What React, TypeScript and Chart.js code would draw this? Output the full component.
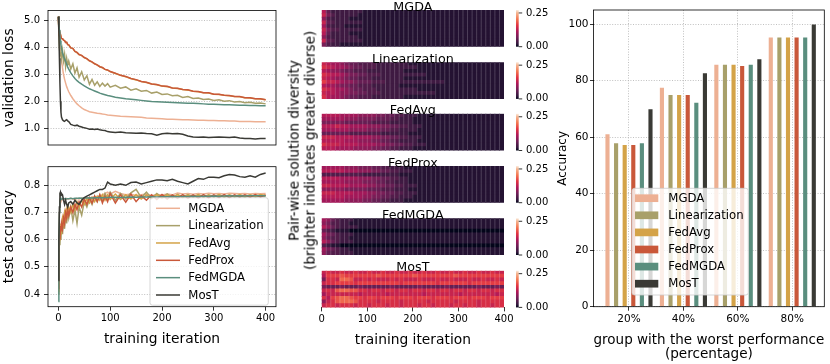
import React, { useEffect, useRef } from 'react';
import { Chart, registerables } from 'chart.js';

Chart.register(...registerables);

const FONT = "'DejaVu Sans', 'Liberation Sans', sans-serif";

// ---------------- data ----------------
const METHODS = ['MGDA', 'Linearization', 'FedAvg', 'FedProx', 'FedMGDA', 'MosT'];
const COLORS = ['#EDB093', '#A8A06A', '#D4A348', '#C9583A', '#5A8E7E', '#3A3A35'];

const ITERS = [0, 1, 2, 3, 4, 5, 6, 8, 10, 12, 14, 16, 18, 20, 24, 28, 32, 36, 40, 45, 50, 55, 60, 65, 70, 75, 80, 85, 90, 95, 100,
  110, 120, 130, 140, 150, 160, 170, 180, 190, 200, 210, 220, 230, 240, 250, 260, 270, 280, 290, 300, 310, 320, 330, 340, 350, 360, 370, 380, 390, 400];

const LOSS_MGDA = [5.15, 4.9, 4.6, 4.3, 4.0, 3.75, 3.55, 3.25, 3.0, 2.82, 2.68, 2.55, 2.45, 2.36, 2.22, 2.1, 2.0, 1.91, 1.84,
  1.76, 1.7, 1.66, 1.62, 1.6, 1.58, 1.56, 1.55, 1.53, 1.52, 1.5, 1.49,
  1.47, 1.45, 1.44, 1.43, 1.42, 1.41, 1.39, 1.38, 1.37, 1.36, 1.34, 1.34, 1.33, 1.32, 1.32, 1.31, 1.30, 1.30, 1.29, 1.29, 1.28, 1.28, 1.27, 1.27, 1.26, 1.26, 1.26, 1.25, 1.25, 1.25];
const LOSS_LIN = [5.15, 4.5, 4.0, 3.8, 3.7, 3.85, 3.6, 3.9, 3.5, 3.75, 3.3, 3.6, 3.35, 3.5, 3.2, 3.4, 3.05, 3.25, 2.9,
  3.1, 2.8, 2.95, 2.64, 2.82, 2.6, 2.73, 2.56, 2.68, 2.57, 2.66, 2.53,
  2.6, 2.49, 2.54, 2.42, 2.47, 2.38, 2.41, 2.31, 2.35, 2.26, 2.28, 2.21, 2.23, 2.15, 2.18, 2.11, 2.13, 2.07, 2.09, 2.04, 2.06, 2.01, 2.03, 1.98, 2.0, 1.95, 1.97, 1.93, 1.94, 1.91];
const LOSS_FEDAVG = [5.15, 4.7, 4.45, 4.4, 4.36, 4.41, 4.34, 4.33, 4.28, 4.25, 4.19, 4.19, 4.11, 4.1, 3.99, 3.96, 3.86, 3.81, 3.74,
  3.7, 3.63, 3.58, 3.51, 3.46, 3.4, 3.35, 3.29, 3.25, 3.19, 3.16, 3.11,
  3.04, 2.97, 2.92, 2.85, 2.8, 2.74, 2.7, 2.65, 2.62, 2.57, 2.55, 2.5, 2.48, 2.44, 2.42, 2.38, 2.36, 2.32, 2.31, 2.27, 2.26, 2.23, 2.21, 2.18, 2.17, 2.14, 2.13, 2.1, 2.09, 2.06];
const LOSS_FEDPROX = [5.15, 4.7, 4.45, 4.4, 4.36, 4.42, 4.34, 4.33, 4.28, 4.26, 4.19, 4.2, 4.11, 4.1, 3.99, 3.97, 3.86, 3.82, 3.74,
  3.71, 3.63, 3.59, 3.51, 3.47, 3.4, 3.36, 3.29, 3.26, 3.19, 3.17, 3.11,
  3.05, 2.97, 2.93, 2.85, 2.81, 2.74, 2.71, 2.65, 2.63, 2.57, 2.56, 2.5, 2.49, 2.44, 2.43, 2.38, 2.37, 2.32, 2.32, 2.27, 2.27, 2.23, 2.22, 2.18, 2.18, 2.14, 2.14, 2.1, 2.1, 2.06];
const LOSS_FEDMGDA = [5.15, 4.9, 4.65, 4.45, 4.25, 4.1, 3.98, 3.8, 3.68, 3.58, 3.48, 3.38, 3.28, 3.2, 3.06, 2.95, 2.85, 2.77, 2.71,
  2.64, 2.58, 2.52, 2.47, 2.43, 2.39, 2.35, 2.31, 2.28, 2.25, 2.22, 2.2,
  2.16, 2.13, 2.1, 2.08, 2.06, 2.04, 2.02, 2.0, 1.99, 1.98, 1.97, 1.96, 1.95, 1.94, 1.93, 1.93, 1.92, 1.91, 1.9, 1.9, 1.89, 1.88, 1.88, 1.87, 1.86, 1.86, 1.85, 1.85, 1.84, 1.84];
const LOSS_MOST = [5.15, 4.6, 3.6, 2.7, 2.0, 1.6, 1.42, 1.32, 1.28, 1.26, 1.3, 1.32, 1.28, 1.25, 1.15, 1.12, 1.1, 1.12, 1.08,
  1.05, 1.02, 1.0, 0.97, 0.98, 0.96, 0.98, 0.95, 0.93, 0.92, 0.88, 0.87,
  0.85, 0.87, 0.84, 0.83, 0.82, 0.83, 0.81, 0.8, 0.75, 0.8, 0.82, 0.8, 0.81, 0.78, 0.72, 0.68, 0.67, 0.68, 0.66, 0.67, 0.68, 0.67, 0.66, 0.68, 0.64, 0.62, 0.62, 0.61, 0.62, 0.62];

const ACC_MGDA = [0.42, 0.6, 0.7, 0.74, 0.75, 0.74, 0.745, 0.75, 0.745, 0.75, 0.748, 0.752, 0.75, 0.75, 0.752, 0.75, 0.748, 0.752, 0.75,
  0.753, 0.75, 0.755, 0.752, 0.757, 0.755, 0.758, 0.76, 0.765, 0.77, 0.775, 0.768,
  0.778, 0.77, 0.765, 0.768, 0.762, 0.765, 0.768, 0.762, 0.766, 0.764, 0.768, 0.765, 0.772, 0.768, 0.77, 0.767, 0.77, 0.768, 0.771, 0.769, 0.77, 0.768, 0.771, 0.77, 0.769, 0.77, 0.768, 0.77, 0.769, 0.77];
const ACC_LIN = [0.4, 0.55, 0.6, 0.58, 0.63, 0.6, 0.65, 0.62, 0.68, 0.64, 0.7, 0.66, 0.71, 0.68, 0.72, 0.67, 0.71, 0.66, 0.72,
  0.69, 0.74, 0.72, 0.75, 0.73, 0.76, 0.74, 0.765, 0.745, 0.77, 0.75, 0.775,
  0.745, 0.77, 0.75, 0.772, 0.785, 0.755, 0.775, 0.752, 0.77, 0.755, 0.768, 0.755, 0.766, 0.756, 0.765, 0.757, 0.764, 0.757, 0.763, 0.758, 0.764, 0.757, 0.763, 0.758, 0.762, 0.757, 0.763, 0.758, 0.762, 0.76];
const ACC_FEDAVG = [0.41, 0.58, 0.6, 0.64, 0.62, 0.66, 0.64, 0.68, 0.66, 0.7, 0.68, 0.71, 0.69, 0.72, 0.7, 0.73, 0.71, 0.74, 0.72,
  0.745, 0.73, 0.75, 0.735, 0.755, 0.74, 0.76, 0.745, 0.765, 0.745, 0.765, 0.748,
  0.768, 0.748, 0.765, 0.75, 0.766, 0.75, 0.765, 0.752, 0.766, 0.753, 0.765, 0.754, 0.766, 0.755, 0.765, 0.756, 0.766, 0.756, 0.765, 0.757, 0.766, 0.757, 0.765, 0.758, 0.766, 0.758, 0.765, 0.759, 0.766, 0.763];
const ACC_FEDPROX = [0.42, 0.55, 0.62, 0.6, 0.65, 0.63, 0.66, 0.64, 0.68, 0.66, 0.7, 0.68, 0.71, 0.69, 0.72, 0.7, 0.73, 0.71, 0.74,
  0.72, 0.75, 0.73, 0.755, 0.735, 0.76, 0.74, 0.765, 0.735, 0.76, 0.74, 0.77,
  0.735, 0.765, 0.738, 0.768, 0.74, 0.762, 0.745, 0.765, 0.748, 0.766, 0.75, 0.765, 0.752, 0.766, 0.752, 0.765, 0.753, 0.766, 0.754, 0.765, 0.755, 0.766, 0.755, 0.765, 0.756, 0.765, 0.756, 0.766, 0.757, 0.765];
const ACC_FEDMGDA = [0.373, 0.6, 0.7, 0.74, 0.75, 0.752, 0.748, 0.75, 0.752, 0.75, 0.751, 0.75, 0.751, 0.751, 0.752, 0.751, 0.752, 0.752, 0.753,
  0.752, 0.753, 0.753, 0.754, 0.753, 0.754, 0.754, 0.755, 0.754, 0.755, 0.755, 0.756,
  0.756, 0.755, 0.756, 0.757, 0.756, 0.757, 0.757, 0.758, 0.757, 0.758, 0.758, 0.759, 0.758, 0.759, 0.759, 0.76, 0.759, 0.76, 0.76, 0.761, 0.76, 0.761, 0.762, 0.761, 0.762, 0.761, 0.762, 0.762, 0.762, 0.762];
const ACC_MOST = [0.45, 0.6, 0.72, 0.77, 0.775, 0.76, 0.77, 0.765, 0.745, 0.73, 0.745, 0.73, 0.72, 0.735, 0.74, 0.73, 0.745, 0.735, 0.73,
  0.745, 0.755, 0.76, 0.765, 0.77, 0.775, 0.78, 0.785, 0.785, 0.79, 0.812, 0.805,
  0.8, 0.805, 0.8, 0.81, 0.812, 0.805, 0.81, 0.815, 0.82, 0.82, 0.817, 0.822, 0.815, 0.81, 0.805, 0.815, 0.825, 0.822, 0.83, 0.83, 0.828, 0.835, 0.84, 0.838, 0.832, 0.83, 0.835, 0.83, 0.84, 0.845];

const LOSS_TICKS = [1, 2, 3, 4, 5];
const ACC_TICKS = [0.4, 0.5, 0.6, 0.7, 0.8];
const ITER_TICKS = [0, 100, 200, 300, 400];

// heatmaps: 10 pair rows x 40 columns (every 10 iterations); hex digit = level, value = level * HEAT_STEP
const HEAT_STEP = 0.015;
const HEAT_VMAX = 0.272;
const CBAR_TICKS = [0, 0.25];
const HEAT_COLS = [5, 15, 25, 35, 45, 55, 65, 75, 85, 95, 105, 115, 125, 135, 145, 155, 165, 175, 185, 195,
  205, 215, 225, 235, 245, 255, 265, 275, 285, 295, 305, 315, 325, 335, 345, 355, 365, 375, 385, 395];
const HEAT_MGDA = [
  '8422222221 1111111111 1111111111 1111111111',
  '9532222211 1111111111 1111111111 1111111111',
  '6322221111 1111111111 1111111111 1111111111',
  '9432222221 1111111111 1111111111 1111111111',
  '7322211111 1111111111 1111111111 1111111111',
  '9533222221 1111111111 1111111111 1111111111',
  '8422221111 1111111111 1111111111 1111111111',
  '6322222211 1111111111 1111111111 1111111111',
  '9432222221 1111111111 1111111111 1111111111',
  '5322111111 1111111111 1111111111 1111111111',
];
const HEAT_LIN = [
  '9877654433 3322222221 1111111111 1111111111',
  'a987765443 3322222222 2111111111 1111111111',
  '8766544333 2222222211 1111111111 1111111111',
  'a988765544 3332222222 2221111111 1111111111',
  '9876654433 3222222211 1111111111 1111111111',
  'b998766544 4333222222 2222222111 1111111111',
  '8776554433 3222222111 1111111111 1111111111',
  'a987765443 3322222222 2111111111 1111111111',
  '9887665544 3332222222 2222211111 1111111111',
  'a877654433 3222222211 1111111111 1111111111',
];
const HEAT_FEDAVG = [
  '8888777766 6655443322 2111111111 1111111111',
  '7777766655 5544433222 1111111111 1111111111',
  '5555544444 4333322222 1111111111 1111111111',
  '8889887777 6665544332 2211111111 1111111111',
  '7777776666 5554433222 2111111111 1111111111',
  '4444443333 3332222221 1111111111 1111111111',
  '9998888777 7665544332 2211111111 1111111111',
  '8888877766 6554433222 2111111111 1111111111',
  'a999888877 7766554433 2221111111 1111111111',
  '8887777666 6554433222 1111111111 1111111111',
];
const HEAT_FEDPROX = [
  '7777766655 5443322211 1111111111 1111111111',
  '8888877766 6554433222 1111111111 1111111111',
  '3333333332 2222222111 1111111111 1111111111',
  '8888777766 6554433221 1111111111 1111111111',
  '7777766665 5544332221 1111111111 1111111111',
  '9988887777 6655443322 2111111111 1111111111',
  '6666655555 4443332221 1111111111 1111111111',
  '9998888777 6655443322 2111111111 1111111111',
  '8888877776 6554433222 1111111111 1111111111',
  '7777766665 5443322211 1111111111 1111111111',
];
const HEAT_FEDMGDA = [
  '7643222111 1111111111 1111111111 1111111111',
  '6533221111 1111111111 1111111111 1111111111',
  '8643222211 1111111111 1111111111 1111111111',
  '4321110000 0000000000 0000000000 0000000000',
  '7543222111 1111111111 1111111111 1111111111',
  '6433221111 1111111111 1111111111 1111111111',
  '8643222111 1111111111 1111111111 1111111111',
  '3211000000 0000000000 0000000000 0000000000',
  '7543221111 1111111111 1111111111 1111111111',
  '6433222111 1111111111 1111111111 1111111111',
];
const HEAT_MOST = [
  '9a99a99a99 a99a99a99a 99a99a99a9 9a99a99a99',
  '8bbbcbbbbb bbcbbbbbbb cbbbbbbbbc bbbbbbbbbb',
  '5aa9ddc99a 9a999a9a99 9a999a99a9 99a99a99a9',
  '9aabbbbabb bbbbbbbabb bbbbbabbbb bbabbbbbbb',
  '5444544454 4444454444 4544444544 4444544454',
  '9a9cddccaa 9aa9aa9aa9 aa9aa9aa9a a9aa9aa9aa',
  '7999999989 9999899999 9989999999 8999999989',
  'a8bcddcbba bbabbbabbb abbbabbbab bbabbbabbb',
  '69acdddcaa aa9aaaa9aa aaa9aaaaa9 aaaa9aaaaa',
  '9aa9aaa9aa 9aaa9aa9aa a9aa9aaa9a a9aa9aa9aa',
];

const GROUPS = ['20%', '40%', '60%', '80%'];
const BAR_MGDA = [61.0, 77.5, 85.6, 95.3];
const BAR_LIN = [57.8, 74.9, 85.6, 95.3];
const BAR_FEDAVG = [57.2, 74.9, 85.6, 95.3];
const BAR_FEDPROX = [57.2, 74.9, 85.2, 95.3];
const BAR_FEDMGDA = [57.8, 72.2, 85.6, 95.3];
const BAR_MOST = [69.9, 82.6, 87.6, 99.9];
const ACC_TICKS_BAR = [0, 20, 40, 60, 80, 100];

const LOSS = [LOSS_MGDA, LOSS_LIN, LOSS_FEDAVG, LOSS_FEDPROX, LOSS_FEDMGDA, LOSS_MOST];
const ACC = [ACC_MGDA, ACC_LIN, ACC_FEDAVG, ACC_FEDPROX, ACC_FEDMGDA, ACC_MOST];
const HEATS = [HEAT_MGDA, HEAT_LIN, HEAT_FEDAVG, HEAT_FEDPROX, HEAT_FEDMGDA, HEAT_MOST];
const BARS = [BAR_MGDA, BAR_LIN, BAR_FEDAVG, BAR_FEDPROX, BAR_FEDMGDA, BAR_MOST];

// ---------------- helpers ----------------
const ROCKET: [number, string][] = [[0, '#03051A'], [0.083, '#35193E'], [0.25, '#701F57'], [0.417, '#AD1759'],
  [0.583, '#E13342'], [0.75, '#F37651'], [0.917, '#F6B48F'], [1, '#FAEBDD']];
function hexRgb(h: string) {
  return [parseInt(h.slice(1, 3), 16), parseInt(h.slice(3, 5), 16), parseInt(h.slice(5, 7), 16)];
}
function rocket(t: number) {
  t = Math.max(0, Math.min(1, t));
  for (let i = 1; i < ROCKET.length; i++) {
    if (t <= ROCKET[i][0]) {
      const [p0, c0] = ROCKET[i - 1];
      const [p1, c1] = ROCKET[i];
      const f = (t - p0) / (p1 - p0);
      const a = hexRgb(c0), b = hexRgb(c1);
      return [0, 1, 2].map(k => a[k] + (b[k] - a[k]) * f);
    }
  }
  return hexRgb(ROCKET[ROCKET.length - 1][1]);
}
function rgbStr(c: number[]) { return `rgb(${c.map(v => Math.round(v)).join(',')})`; }
function cellColor(v: number) { return rgbStr(rocket(v / HEAT_VMAX)); }

function roundRectPath(ctx: CanvasRenderingContext2D, x: number, y: number, w: number, h: number, r: number) {
  ctx.beginPath();
  ctx.moveTo(x + r, y);
  ctx.lineTo(x + w - r, y);
  ctx.arcTo(x + w, y, x + w, y + r, r);
  ctx.lineTo(x + w, y + h - r);
  ctx.arcTo(x + w, y + h, x + w - r, y + h, r);
  ctx.lineTo(x + r, y + h);
  ctx.arcTo(x, y + h, x, y + h - r, r);
  ctx.lineTo(x, y + r);
  ctx.arcTo(x, y, x + r, y, r);
  ctx.closePath();
}

const framePlugin = {
  id: 'frame',
  afterDatasetsDraw(chart: any) {
    const { ctx, chartArea: a } = chart;
    ctx.save();
    ctx.strokeStyle = '#000';
    ctx.lineWidth = 0.8;
    ctx.strokeRect(a.left, a.top, a.right - a.left, a.bottom - a.top);
    ctx.restore();
  },
};

function makeLegend(L: any) {
  return {
    id: 'boxLegend',
    afterDraw(chart: any) {
      const ctx = chart.ctx as CanvasRenderingContext2D;
      ctx.save();
      roundRectPath(ctx, L.x, L.y, L.w, L.h, 2.5);
      ctx.fillStyle = 'rgba(255,255,255,0.8)';
      ctx.fill();
      ctx.strokeStyle = '#cccccc';
      ctx.lineWidth = 0.8;
      ctx.stroke();
      ctx.font = `11.7px ${FONT}`;
      ctx.textBaseline = 'middle';
      ctx.textAlign = 'left';
      METHODS.forEach((m, i) => {
        const cy = L.row0 + i * L.dy;
        if (L.kind === 'line') {
          ctx.strokeStyle = COLORS[i];
          ctx.lineWidth = 1.5;
          ctx.beginPath();
          ctx.moveTo(L.hx0, cy);
          ctx.lineTo(L.hx1, cy);
          ctx.stroke();
        } else {
          ctx.fillStyle = COLORS[i];
          ctx.fillRect(L.hx0, cy - 3.85, L.hx1 - L.hx0, 7.7);
        }
        ctx.fillStyle = '#000';
        ctx.fillText(m, L.tx, cy + 0.5);
      });
      ctx.restore();
    },
  };
}

const tickFont = { size: 10, family: FONT };
const gridY = { color: '#b0b0b0', lineWidth: 0.8, tickLength: 4, tickColor: '#000', tickWidth: 0.8, tickBorderDash: [] };
const dotted = { display: false, dash: [1, 1.6] };

function lineConfig(series: number[][], ticks: number[], yMin: number, yMax: number, yTitle: string, withX: boolean, pad: any, xH: number, legend?: any) {
  return {
    type: 'line',
    data: {
      datasets: METHODS.map((m, i) => ({
        label: m,
        data: ITERS.map((x, k) => ({ x, y: series[i][k] })),
        borderColor: COLORS[i],
        backgroundColor: COLORS[i],
        borderWidth: 1.5,
        pointRadius: 0,
        tension: 0,
        fill: false,
        order: 5 - i,
      })),
    },
    options: {
      animation: false,
      responsive: false,
      events: [],
      layout: { padding: pad },
      plugins: { legend: { display: false }, tooltip: { enabled: false }, title: { display: false } },
      scales: {
        x: {
          type: 'linear', min: -20, max: 420, display: withX,
          afterBuildTicks: (s: any) => { s.ticks = ITER_TICKS.map(v => ({ value: v })); },
          afterFit: (s: any) => { s.height = xH; },
          ticks: { font: tickFont, color: '#000', padding: 2, maxRotation: 0 },
          grid: { drawOnChartArea: false, tickLength: 4, tickColor: '#000', tickWidth: 0.8, color: '#000' },
          border: { display: false },
          title: { display: true, text: 'training iteration', font: { size: 13.8, family: FONT }, color: '#000', padding: { top: 0, bottom: 16.5 } },
        },
        y: {
          type: 'linear', min: yMin, max: yMax,
          afterBuildTicks: (s: any) => { s.ticks = ticks.map(v => ({ value: v })); },
          afterFit: (s: any) => { s.width = 48; },
          ticks: { font: tickFont, color: '#000', padding: 4, callback: (v: any) => Number(v).toFixed(1) },
          grid: gridY,
          border: dotted,
          title: { display: true, text: yTitle, font: { size: 13.8, family: FONT }, color: '#000', padding: { top: 1, bottom: 0 } },
        },
      },
    },
    plugins: legend ? [framePlugin, makeLegend(legend)] : [framePlugin],
  };
}

// layout of the heatmap column
const HEAT_TOPS = [10, 62.2, 113.8, 166, 218.3, 270.7];
const HEAT_H = 36.7;
function heatBox(i: number) {
  const t = HEAT_TOPS[i];
  const top = Math.floor(t) - 12;
  const last = i === HEAT_TOPS.length - 1;
  const height = last ? 364 - top : 62;
  return { top, height, padTop: t - top, last };
}

function heatConfig(i: number) {
  const box = heatBox(i);
  const rows = HEATS[i];
  const cells: any[] = [];
  rows.forEach((row, r) => {
    const levels = row.replace(/ /g, '').split('');
    levels.forEach((ch, c) => {
      cells.push({ x: HEAT_COLS[c], y: [r, r + 1], v: parseInt(ch, 16) * HEAT_STEP });
    });
  });
  const title = METHODS[i];
  const xH = box.height - box.padTop - HEAT_H;
  const heatDeco = {
    id: 'heatDeco',
    afterDatasetsDraw(chart: any) {
      // faint seams between the 10-iteration columns
      const ctx = chart.ctx as CanvasRenderingContext2D;
      const a = chart.chartArea;
      const sx = chart.scales.x;
      ctx.save();
      ctx.strokeStyle = 'rgba(255,255,255,0.2)';
      ctx.lineWidth = 1;
      HEAT_COLS.forEach((c, k) => {
        if (k === 0) return;
        const px = sx.getPixelForValue(c - 5);
        ctx.beginPath();
        ctx.moveTo(px, a.top);
        ctx.lineTo(px, a.bottom);
        ctx.stroke();
      });
      ctx.restore();
    },
    afterDraw(chart: any) {
      const ctx = chart.ctx as CanvasRenderingContext2D;
      const a = chart.chartArea;
      const s = chart.scales.y2;
      ctx.save();
      // colorbar
      const x0 = a.right + 12, w = 2.7;
      const g = ctx.createLinearGradient(0, s.bottom, 0, s.top);
      ROCKET.forEach(([p, c]) => g.addColorStop(p, c));
      ctx.fillStyle = g;
      ctx.fillRect(x0, s.top, w, s.bottom - s.top);
      ctx.strokeStyle = '#000';
      ctx.lineWidth = 0.8;
      CBAR_TICKS.forEach(v => {
        const y = s.getPixelForValue(v);
        ctx.beginPath();
        ctx.moveTo(x0 + w, y);
        ctx.lineTo(x0 + w + 3.5, y);
        ctx.stroke();
      });
      // panel title
      ctx.fillStyle = '#000';
      ctx.font = `12.7px ${FONT}`;
      ctx.textAlign = 'center';
      ctx.textBaseline = 'alphabetic';
      ctx.fillText(title, (a.left + a.right) / 2, a.top + 0.6);
      ctx.restore();
    },
  };
  return {
    type: 'bar',
    data: {
      datasets: [{
        data: cells,
        backgroundColor: (ctx: any) => (ctx.raw ? cellColor(ctx.raw.v) : '#000'),
        borderWidth: 0,
        inflateAmount: 0.5,
        barPercentage: 1,
        categoryPercentage: 1,
        grouped: false,
      }],
    },
    options: {
      animation: false,
      responsive: false,
      events: [],
      layout: { padding: { left: 36.7, top: box.padTop, right: 0, bottom: 0 } },
      plugins: { legend: { display: false }, tooltip: { enabled: false }, title: { display: false } },
      scales: {
        x: {
          type: 'linear', min: 0, max: 400, offset: false, display: box.last,
          afterBuildTicks: (s: any) => { s.ticks = ITER_TICKS.map(v => ({ value: v })); },
          afterFit: (s: any) => { s.height = xH; },
          ticks: { font: tickFont, color: '#000', padding: 2, maxRotation: 0 },
          grid: { offset: false, drawOnChartArea: false, tickLength: 4, tickColor: '#000', tickWidth: 0.8, color: '#000' },
          border: { display: false },
          title: { display: true, text: 'training iteration', font: { size: 13.8, family: FONT }, color: '#000', padding: { top: 0, bottom: 15.7 } },
        },
        y: { type: 'linear', min: 0, max: 10, reverse: true, display: false },
        y2: {
          type: 'linear', position: 'right', min: 0, max: HEAT_VMAX,
          afterBuildTicks: (s: any) => { s.ticks = CBAR_TICKS.map(v => ({ value: v })); },
          afterFit: (s: any) => { s.width = 56; },
          ticks: { font: tickFont, color: '#000', padding: 0, autoSkip: false, callback: (v: any) => Number(v).toFixed(2) },
          grid: { display: true, drawOnChartArea: false, drawTicks: true, tickLength: 22, tickColor: 'rgba(0,0,0,0)', color: 'rgba(0,0,0,0)' },
          border: { display: false },
        },
      },
    },
    plugins: [heatDeco],
  };
}

function barConfig() {
  return {
    type: 'bar',
    data: {
      datasets: METHODS.map((m, i) => ({
        label: m,
        data: BARS[i].map((y, g) => ({ x: g, y })),
        backgroundColor: COLORS[i],
        borderWidth: 0,
        categoryPercentage: 0.948,
        barPercentage: 0.48,
      })),
    },
    options: {
      animation: false,
      responsive: false,
      events: [],
      layout: { padding: { left: 0, top: 10, right: 5.7, bottom: 0 } },
      plugins: { legend: { display: false }, tooltip: { enabled: false }, title: { display: false } },
      scales: {
        x: {
          type: 'linear', min: -0.652, max: 3.588, offset: false,
          afterBuildTicks: (s: any) => { s.ticks = GROUPS.map((_, g) => ({ value: g })); },
          afterFit: (s: any) => { s.height = 57.3; },
          ticks: { font: { size: 10.5, family: FONT }, color: '#000', padding: 2, maxRotation: 0, callback: (v: any) => GROUPS[Math.round(Number(v))] },
          grid: { offset: false, color: '#b0b0b0', lineWidth: 0.8, tickLength: 4, tickColor: '#000', tickWidth: 0.8, tickBorderDash: [] },
          border: dotted,
          title: { display: true, text: ['group with the worst performance', '(percentage)'], font: { size: 13.6, family: FONT, lineHeight: 1.03 }, color: '#000', padding: { top: 0, bottom: 2.5 } },
        },
        y: {
          type: 'linear', min: 0, max: 105,
          afterBuildTicks: (s: any) => { s.ticks = ACC_TICKS_BAR.map(v => ({ value: v })); },
          afterFit: (s: any) => { s.width = 38.5; },
          ticks: { font: { size: 10.5, family: FONT }, color: '#000', padding: 1.5 },
          grid: { color: '#b0b0b0', lineWidth: 0.8, tickLength: 3.5, tickColor: '#000', tickWidth: 0.8, tickBorderDash: [] },
          border: dotted,
          title: { display: true, text: 'Accuracy', font: { size: 12, family: FONT }, color: '#000', padding: { top: 0.8, bottom: 0 } },
        },
      },
    },
    plugins: [framePlugin, makeLegend({ kind: 'patch', x: 77, y: 188.3, w: 116.3, h: 106.7, row0: 198.2, dy: 17.1, hx0: 80, hx1: 103.3, tx: 113.3 })],
  };
}

export default function App() {
  const lossRef = useRef<HTMLCanvasElement>(null);
  const accRef = useRef<HTMLCanvasElement>(null);
  const barRef = useRef<HTMLCanvasElement>(null);
  const heatRefs = useRef<(HTMLCanvasElement | null)[]>([]);

  useEffect(() => {
    Chart.defaults.font.family = FONT;
    Chart.defaults.color = '#000';
    const charts: Chart[] = [];
    charts.push(new Chart(lossRef.current as any, lineConfig(LOSS, LOSS_TICKS, 0.383, 5.377, 'validation loss', false,
      { top: 10.5, right: 6, bottom: 4.5, left: 0 }, 0) as any));
    charts.push(new Chart(accRef.current as any, lineConfig(ACC, ACC_TICKS, 0.3535, 0.8685, 'test accuracy', true,
      { top: 11.7, right: 6, bottom: 0, left: 0 }, 57.3,
      { kind: 'line', x: 150, y: 42.7, w: 118.3, h: 107.5, row0: 53.3, dy: 17.34, hx0: 156, hx1: 180, tx: 188.3 }) as any));
    HEATS.forEach((_, i) => {
      const c = heatRefs.current[i];
      if (c) charts.push(new Chart(c as any, heatConfig(i) as any));
    });
    charts.push(new Chart(barRef.current as any, barConfig() as any));
    return () => charts.forEach(c => c.destroy());
  }, []);

  const abs = (left: number, top: number, width: number, height: number): React.CSSProperties => ({ position: 'absolute', left, top, width, height });

  return (
    <div style={{ position: 'absolute', left: 0, top: 0, width: 830, height: 364, background: '#fff', overflow: 'hidden' }}>
      <canvas ref={lossRef} width={282} height={155} style={abs(0, 0, 282, 155)} />
      <canvas ref={accRef} width={282} height={209} style={abs(0, 155, 282, 209)} />
      {HEATS.map((_, i) => {
        const b = heatBox(i);
        return <canvas key={i} ref={el => { heatRefs.current[i] = el; }} width={275} height={b.height} style={abs(285, b.top, 275, b.height)} />;
      })}
      <canvas ref={barRef} width={275} height={364} style={abs(555, 0, 275, 364)} />
      <div style={{
        position: 'absolute', left: 301.8 - 130, top: 150 - 16.4, width: 260, height: 32.8,
        transform: 'rotate(-90deg)', transformOrigin: '50% 50%', fontFamily: FONT, fontSize: '13.6px',
        lineHeight: '16.4px', textAlign: 'center', whiteSpace: 'nowrap', color: '#000',
      }}>
        Pair-wise solution diversity<br />(brighter indicates greater diverse)
      </div>
    </div>
  );
}
